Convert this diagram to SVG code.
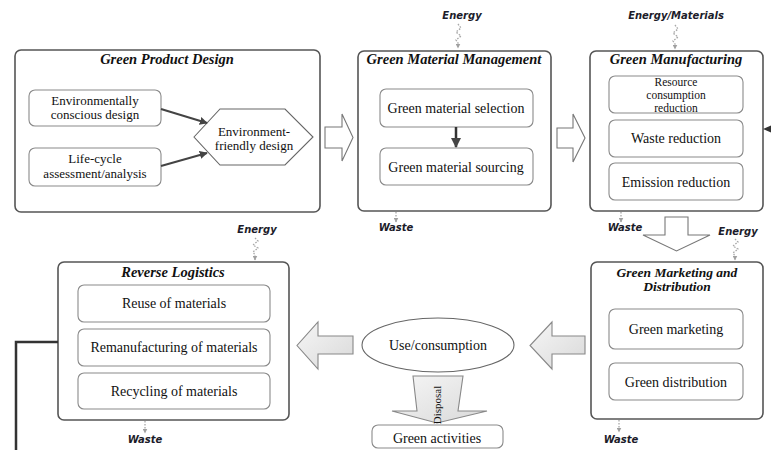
<svg xmlns="http://www.w3.org/2000/svg" width="771" height="450" viewBox="0 0 771 450">
<style>
.outer{fill:#fff;stroke:#555;stroke-width:1.6}
.inner{fill:#fff;stroke:#8a8a8a;stroke-width:1.1}
.t{font-family:"Liberation Serif","Times New Roman",serif;font-size:14px;fill:#111;text-anchor:middle}
.t2{font-family:"Liberation Serif","Times New Roman",serif;font-size:13px;fill:#111;text-anchor:middle}
.t3{font-family:"Liberation Serif","Times New Roman",serif;font-size:11.5px;fill:#111;text-anchor:middle}
.ti{font-family:"Liberation Serif","Times New Roman",serif;font-size:14.5px;font-weight:bold;font-style:italic;fill:#111;text-anchor:middle}
.ti2{font-family:"Liberation Serif","Times New Roman",serif;font-size:13.5px;font-weight:bold;font-style:italic;fill:#111;text-anchor:middle}
.lbl{font-family:"DejaVu Sans",Verdana,sans-serif;font-size:10px;font-weight:bold;font-style:italic;fill:#1c1c2a;text-anchor:middle}
.blk{fill:#fff;stroke:#777;stroke-width:1.1}
.gblk{fill:url(#gg);stroke:#888;stroke-width:1.1}
.dot{fill:none;stroke:#a8a8a8;stroke-width:1.3;stroke-dasharray:1.6 1.4}
.dk{fill:none;stroke:#444;stroke-width:2}
</style>
<defs>
<linearGradient id="gg" x1="0" y1="0" x2="1" y2="1">
<stop offset="0" stop-color="#f6f6f6"/>
<stop offset="1" stop-color="#d9d9d9"/>
</linearGradient>
<marker id="ah" viewBox="0 0 10 10" refX="9" refY="5" markerWidth="4" markerHeight="4" orient="auto">
<path d="M0,0 L10,5 L0,10 Z" fill="#444"/>
</marker>
<marker id="gh" viewBox="0 0 10 10" refX="9" refY="5" markerWidth="5" markerHeight="5" orient="auto" markerUnits="userSpaceOnUse">
<path d="M0,0 L10,5 L0,10 Z" fill="#a0a0a0"/>
</marker>
</defs>

<g id="green-product-design">
<rect class="outer" x="15" y="50" width="305" height="162" rx="6"/>
<text class="ti" x="167" y="64">Green Product Design</text>
<rect class="inner" x="29" y="90" width="132" height="36" rx="6"/>
<text class="t2" x="95" y="105">Environmentally</text>
<text class="t2" x="95" y="119">conscious design</text>
<rect class="inner" x="29" y="148" width="132" height="38" rx="6"/>
<text class="t2" x="95" y="163">Life-cycle</text>
<text class="t2" x="95" y="178">assessment/analysis</text>
<polygon points="194,137 220,109 285,109 313,137 285,165 220,165" fill="#fff" stroke="#666" stroke-width="1.1"/>
<text class="t2" x="254" y="136">Environment-</text>
<text class="t2" x="254" y="150">friendly design</text>
</g>

<g id="green-material-management">
<rect class="outer" x="358" y="51" width="193" height="160" rx="6"/>
<text class="ti" x="454" y="64">Green Material Management</text>
<rect class="inner" x="380" y="89" width="153" height="38" rx="6"/>
<text class="t" x="456" y="112.5">Green material selection</text>
<rect class="inner" x="380" y="148" width="153" height="37" rx="6"/>
<text class="t" x="456" y="171.5">Green material sourcing</text>
</g>

<g id="green-manufacturing">
<rect class="outer" x="590" y="51" width="173" height="160" rx="6"/>
<text class="ti" x="676" y="64">Green Manufacturing</text>
<rect class="inner" x="609" y="76" width="134" height="37" rx="6"/>
<text class="t3" x="676" y="86">Resource</text>
<text class="t3" x="676" y="99">consumption</text>
<text class="t3" x="676" y="112">reduction</text>
<rect class="inner" x="609" y="120" width="134" height="37" rx="6"/>
<text class="t" x="676" y="142.5">Waste reduction</text>
<rect class="inner" x="609" y="163" width="134" height="37" rx="6"/>
<text class="t" x="676" y="186.5">Emission reduction</text>
</g>

<g id="green-marketing-distribution">
<rect class="outer" x="591" y="262" width="172" height="157" rx="6"/>
<text class="ti2" x="677" y="277">Green Marketing and</text>
<text class="ti2" x="677" y="291">Distribution</text>
<rect class="inner" x="609" y="309" width="134" height="40" rx="6"/>
<text class="t" x="676" y="333.5">Green marketing</text>
<rect class="inner" x="609" y="363" width="134" height="37" rx="6"/>
<text class="t" x="676" y="386.5">Green distribution</text>
</g>

<g id="reverse-logistics">
<rect class="outer" x="58" y="262" width="231" height="158" rx="6"/>
<text class="ti" x="173" y="276.5">Reverse Logistics</text>
<rect class="inner" x="78" y="285" width="192" height="37" rx="6"/>
<text class="t" x="174" y="307.5">Reuse of materials</text>
<rect class="inner" x="78" y="329" width="192" height="37" rx="6"/>
<text class="t" x="174" y="351.5">Remanufacturing of materials</text>
<rect class="inner" x="78" y="373" width="192" height="36" rx="6"/>
<text class="t" x="174" y="395.5">Recycling of materials</text>
</g>

<g id="use-consumption">
<ellipse cx="438" cy="345" rx="76" ry="27" fill="#fff" stroke="#666" stroke-width="1.1"/>
<text class="t" x="438" y="349.5">Use/consumption</text>
</g>

<g id="green-activities">
<rect class="inner" x="372" y="425" width="131" height="23" rx="6" stroke="#666"/>
<text class="t" x="437" y="442.5">Green activities</text>
</g>

<g id="connectors">
<line class="dk" x1="161" y1="109" x2="207" y2="123" marker-end="url(#ah)"/>
<line class="dk" x1="161" y1="166" x2="207" y2="153" marker-end="url(#ah)"/>
<line x1="456" y1="127" x2="456" y2="147" stroke="#333" stroke-width="2.5" marker-end="url(#ah)"/>

<path class="blk" d="M325,127 H342 V114 L353,137.5 L342,161 V148 H325 Z"/>
<path class="blk" d="M557,128 H573 V114 L585,138 L573,162 V148 H557 Z"/>
<path class="blk" d="M665,217 H688 V235 H710 L676.5,251 L643,235 H665 Z"/>
<path class="gblk" d="M353,336 V354 H318 V369 L297,345.5 L318,322 V336 Z"/>
<path class="gblk" d="M585,336 V354 H552 V369 L530,345.5 L552,322 V336 Z"/>
<path class="gblk" d="M413,376 H463 L458,411 H487 L437,423 L392,411 H417 Z"/>
<text transform="translate(441,405) rotate(-90)" font-family="Liberation Serif,'Times New Roman',serif" font-size="11" fill="#111" text-anchor="middle">Disposal</text>

<polyline points="58,342 16,342 16,450" fill="none" stroke="#333" stroke-width="2.5"/>
<polygon points="763,129 771,125.5 771,132.5" fill="#333"/>

<path class="dot" d="M458,24 l3,4 l-5,4 l5,4 l-5,4 l2,3 v5" marker-end="url(#gh)"/>
<path class="dot" d="M675,25 l3,4 l-5,4 l5,4 l-5,4 l2,3 v5" marker-end="url(#gh)"/>
<path class="dot" d="M735,239 l3,3 l-5,4 l5,3 l-5,4 l2,3 v4" marker-end="url(#gh)"/>
<path class="dot" d="M255,238 l3,3 l-5,4 l5,3 l-5,4 l2,3 v5" marker-end="url(#gh)"/>

<path class="dot" d="M396,212 V222" marker-end="url(#gh)"/>
<path class="dot" d="M621,212 V222" marker-end="url(#gh)"/>
<path class="dot" d="M619,420 V432" marker-end="url(#gh)"/>
<path class="dot" d="M145,421 V433" marker-end="url(#gh)"/>

<text class="lbl" x="462" y="19">Energy</text>
<text class="lbl" x="676" y="19">Energy/Materials</text>
<text class="lbl" x="738" y="235">Energy</text>
<text class="lbl" x="257" y="233">Energy</text>
<text class="lbl" x="396" y="231">Waste</text>
<text class="lbl" x="625" y="231">Waste</text>
<text class="lbl" x="621" y="442.5">Waste</text>
<text class="lbl" x="145" y="442.5">Waste</text>
</g>
</svg>
